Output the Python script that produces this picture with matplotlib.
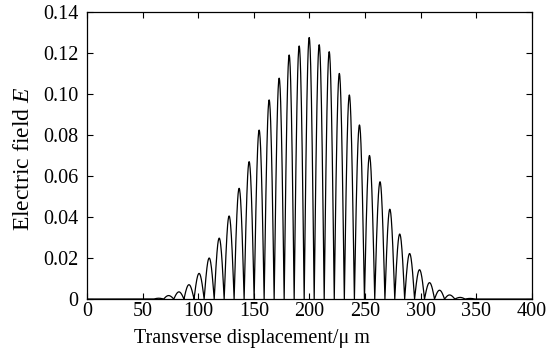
import numpy as np
import matplotlib
matplotlib.use("Agg")
import matplotlib.pyplot as plt

# Fringe peak positions (μm) and peak amplitudes
peak_x = [64.5, 73.4, 82.7, 91.7, 100.8, 109.9, 118.9, 127.8, 136.8, 145.8,
          154.8, 163.8, 172.8, 181.8, 190.8, 199.8, 208.8, 217.8, 226.9, 235.9,
          245.0, 254.0, 263.5, 272.3, 281.2, 290.1, 299.0, 308.0, 317.0, 326.0,
          335.5, 344.5]
peak_e = [0.0004, 0.0017, 0.0035, 0.0070, 0.0125, 0.0200, 0.0297, 0.0405, 0.0540, 0.0670,
          0.0824, 0.0971, 0.1077, 0.1190, 0.1234, 0.1275, 0.1240, 0.1206, 0.1100, 0.0995,
          0.0849, 0.0700, 0.0572, 0.0438, 0.0317, 0.0222, 0.0143, 0.0080, 0.0043, 0.0020,
          0.0008, 0.0003]

x_ticks = [0, 50, 100, 150, 200, 250, 300, 350, 400]
y_ticks = [0, 0.02, 0.04, 0.06, 0.08, 0.10, 0.12, 0.14]
y_tick_labels = ["0", "0.02", "0.04", "0.06", "0.08", "0.10", "0.12", "0.14"]

plt.rcParams['font.family'] = ['Liberation Serif', 'DejaVu Serif']
plt.rcParams['mathtext.fontset'] = 'custom'
plt.rcParams['mathtext.it'] = 'Liberation Serif:italic'
plt.rcParams['mathtext.rm'] = 'Liberation Serif'

fig = plt.figure(figsize=(5.54, 3.51), dpi=100)
ax = fig.add_axes([0.157, 0.148, 0.803, 0.818])

# build the fringe curve: each fringe is an |cos| lobe between neighbouring zeros
px = np.array(peak_x)
pe = np.array(peak_e)
xs = [np.array([0.0])]
ys = [np.array([0.0])]
for i in range(len(px)):
    left = (px[i] - px[i - 1]) / 2 if i > 0 else (px[1] - px[0]) / 2
    right = (px[i + 1] - px[i]) / 2 if i < len(px) - 1 else (px[-1] - px[-2]) / 2
    t = np.linspace(-1, 1, 41)
    half = np.where(t < 0, left, right)
    xx = px[i] + t * half
    yy = pe[i] * np.cos(np.pi / 2 * t)
    xs.append(xx)
    ys.append(yy)
xs.append(np.array([400.0]))
ys.append(np.array([0.0]))
X = np.concatenate(xs)
Y = np.concatenate(ys)
ax.plot(X, Y, color='black', lw=0.9)

ax.set_xlim(0, 400)
ax.set_ylim(0, 0.14)
ax.set_xticks(x_ticks)
ax.set_yticks(y_ticks)
ax.set_yticklabels(y_tick_labels)
ax.tick_params(direction='in', top=True, right=True, labelsize=14.5, length=4, width=0.8)
ax.tick_params(axis='y', pad=6)
ax.tick_params(axis='x', pad=2)
for s in ax.spines.values():
    s.set_linewidth(0.9)
ax.set_xlabel("Transverse displacement/\u03bc m", fontsize=14.5)
ax.xaxis.set_label_coords(0.37, -0.105)
ax.set_ylabel("Electric field $E$", fontsize=17)
ax.yaxis.set_label_coords(-0.12, 0.49)

fig.savefig("out.png", dpi=100)
